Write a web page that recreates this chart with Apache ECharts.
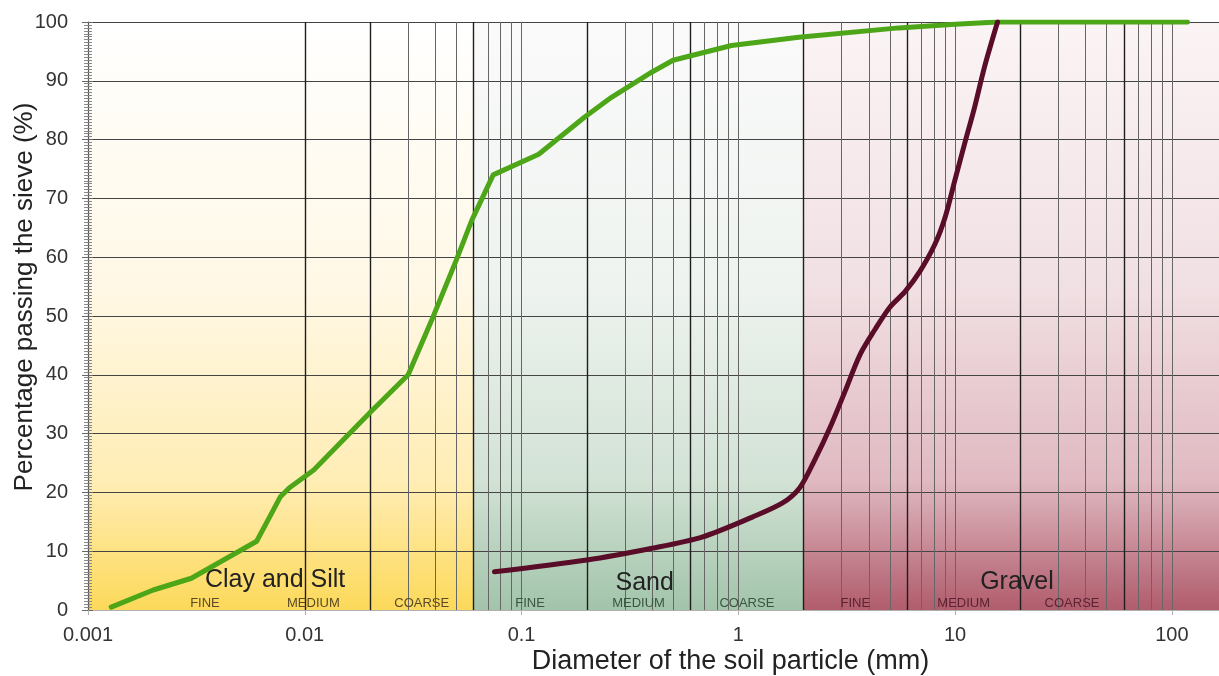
<!DOCTYPE html>
<html>
<head>
<meta charset="utf-8">
<script src="https://cdn.jsdelivr.net/npm/echarts@6/dist/echarts.min.js"></script>
<style>
html,body{margin:0;padding:0;background:#fff;}
#chart{width:1219px;height:676px;}
</style>
</head>
<body>
<div id="chart"></div>
<script>
// ---- Data ----
const soilA_x = [0.00128, 0.002, 0.003, 0.006, 0.0077, 0.0085, 0.011, 0.02, 0.03, 0.039, 0.05, 0.059, 0.074, 0.12, 0.195, 0.26, 0.4, 0.5, 0.93, 1.9, 5.5, 10, 15.7, 118];
const soilA_y = [0.5, 3.4, 5.4, 11.7, 19.2, 20.8, 23.8, 33.6, 40, 49.8, 59.5, 66.3, 74, 77.5, 83.8, 87.2, 91.5, 93.5, 96, 97.4, 99, 99.6, 100, 100];
const soilB_x = [0.075, 0.2, 0.4, 0.68, 1.16, 1.6, 1.92, 2.25, 2.64, 3.1, 3.64, 4.27, 5.0, 5.86, 6.88, 8.07, 8.98, 9.98, 11.1, 12.3, 13.7, 15.7];
const soilB_y = [6.5, 8.5, 10.5, 12.4, 15.8, 18.2, 20.8, 25.5, 30.9, 37.1, 43.4, 47.7, 51.5, 54.1, 57.6, 62.2, 66.7, 73.1, 79.5, 85.5, 92.5, 100];

const xTickLabels = ['0.001', '0.01', '0.1', '1', '10', '100'];
const yTicks = [0, 10, 20, 30, 40, 50, 60, 70, 80, 90, 100];

const zoneNames = ['Clay and Silt', 'Sand', 'Gravel'];
const zoneEdges = [0.001, 0.06, 2, 165];
const zoneLabelX = [0.0073, 0.37, 19.3];
const zoneLabelY = [5.1, 4.6, 4.8];
const subNames = ['FINE', 'MEDIUM', 'COARSE', 'FINE', 'MEDIUM', 'COARSE', 'FINE', 'MEDIUM', 'COARSE'];
const subEdges = [0.002, 0.006, 0.02, 0.06, 0.2, 0.6, 2, 6, 20, 60];
const subLabelY = 1.2;

// ---- Styling ----
const FONT = 'Liberation Sans, Arial, sans-serif';
const zoneGradients = [
  [[0, '#ffffff'], [0.45, '#fff8e6'], [0.78, '#ffedb5'], [1, '#fcd95a']],
  [[0, '#fafafa'], [0.45, '#eef3ef'], [0.78, '#d2e2d5'], [1, '#a2c4aa']],
  [[0, '#fbf4f5'], [0.45, '#f1e0e3'], [0.78, '#e0b9c1'], [1, '#b05c6c']]
];
const subColors = ['#5a4a25', '#5a4a25', '#5a4a25', '#3a5541', '#3a5541', '#3a5541', '#5c2433', '#5c2433', '#5c2433'];

// minor grid lines 1..9 x 10^n up to 100
const minorLines = [];
for (let e = -3; e <= 2; e++) {
  for (let k = 1; k <= 9; k++) {
    const v = +(k * Math.pow(10, e)).toPrecision(3);
    if (v > 0.001 && v <= 100 && subEdges.indexOf(v) < 0) minorLines.push(v);
  }
}

const bgAreas = zoneNames.map((n, i) => [
  { xAxis: zoneEdges[i], yAxis: 0, itemStyle: { color: { type: 'linear', x: 0, y: 0, x2: 0, y2: 1, colorStops: zoneGradients[i].map(s => ({ offset: s[0], color: s[1] })) } } },
  { xAxis: zoneEdges[i + 1], yAxis: 100 }
]);

const vLines = minorLines.map(v => ({ xAxis: v, lineStyle: { color: '#666666', width: 1, type: 'solid' } }))
  .concat(subEdges.map(v => ({ xAxis: v, lineStyle: { color: '#1e1e1e', width: 1.4, type: 'solid' } })));

const zonePoints = zoneNames.map((n, i) => ({
  coord: [zoneLabelX[i], zoneLabelY[i]], value: n,
  label: { show: true, position: 'inside', formatter: n, fontFamily: FONT, fontSize: 25, color: '#222' }
}));
const subPoints = subNames.map((n, i) => ({
  coord: [Math.sqrt(subEdges[i] * subEdges[i + 1]), subLabelY], value: n,
  label: { show: true, position: 'inside', formatter: n, fontFamily: FONT, fontSize: 13, color: subColors[i] }
}));

const chart = echarts.init(document.getElementById('chart'), null, { renderer: 'canvas' });
chart.setOption({
  backgroundColor: '#ffffff',
  animation: false,
  grid: { left: 88, right: 0, top: 22, bottom: 66, containLabel: false, outerBoundsMode: 'none' },
  xAxis: {
    type: 'log', logBase: 10, min: 0.001, max: 165, z: 3,
    name: 'Diameter of the soil particle (mm)', nameLocation: 'middle', nameGap: 38, nameMoveOverlap: false,
    nameTextStyle: { fontFamily: FONT, fontSize: 27, color: '#222', padding: [0, 0, 0, 154] },
    axisLine: { show: true, lineStyle: { color: '#b0b0b0', width: 1 } },
    axisTick: { show: true, length: 5, lineStyle: { color: '#b0b0b0' } },
    axisLabel: {
      fontFamily: FONT, fontSize: 20, color: '#333', margin: 15, showMaxLabel: false,
      formatter: v => xTickLabels[Math.round(Math.log10(v)) + 3] || ''
    },
    splitLine: { show: false }, minorTick: { show: false }
  },
  yAxis: [{
    type: 'value', min: 0, max: 100, interval: 10, z: 3,
    name: 'Percentage passing the sieve (%)', nameLocation: 'middle', nameGap: 50, nameRotate: 90, nameMoveOverlap: false,
    nameTextStyle: { fontFamily: FONT, fontSize: 26, color: '#222', padding: [0, 0, 0, 38] },
    axisLine: { show: true, lineStyle: { color: '#555', width: 1.2 } },
    axisTick: { show: true, length: 6, lineStyle: { color: '#666' } },
    minorTick: { show: true, splitNumber: 20, length: 4, lineStyle: { color: '#888' } },
    axisLabel: { fontFamily: FONT, fontSize: 20, color: '#333', margin: 20,
      formatter: v => (yTicks.indexOf(v) >= 0 ? String(v) : '') },
    splitLine: { show: true, lineStyle: { color: '#444', width: 1 } }
  }, {
    type: 'value', min: 0, max: 100, interval: 10, position: 'left', z: 3,
    axisLine: { show: false }, axisLabel: { show: false }, splitLine: { show: false },
    axisTick: { show: true, inside: true, length: 5, lineStyle: { color: '#666' } },
    minorTick: { show: true, splitNumber: 20, length: 4, lineStyle: { color: '#888' } }
  }],
  series: [
    {
      type: 'line', data: [], z: 1, silent: true,
      markArea: { silent: true, data: bgAreas }
    },
    {
      type: 'line', data: [], silent: true,
      markLine: { silent: true, symbol: ['none', 'none'], label: { show: false }, data: vLines }
    },
    {
      type: 'line', name: 'Soil A', z: 10, smooth: false, showSymbol: false, symbol: 'none',
      data: soilA_x.map((x, i) => [x, soilA_y[i]]),
      lineStyle: { color: '#4ca617', width: 5, cap: 'round', join: 'round' }
    },
    {
      type: 'line', name: 'Soil B', z: 10, smooth: 0.3, showSymbol: false, symbol: 'none',
      data: soilB_x.map((x, i) => [x, soilB_y[i]]),
      lineStyle: { color: '#5a0d28', width: 5, cap: 'round', join: 'round' }
    },
    {
      type: 'scatter', data: [], silent: true, z: 8,
      markPoint: { silent: true, symbol: 'circle', symbolSize: 1, itemStyle: { color: 'rgba(0,0,0,0)' }, data: zonePoints.concat(subPoints) }
    }
  ]
});
</script>
</body>
</html>
